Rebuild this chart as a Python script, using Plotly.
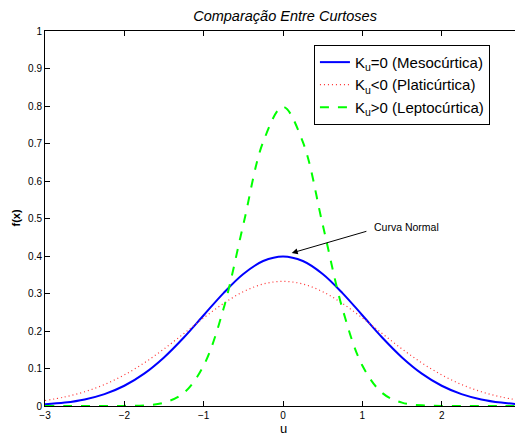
import plotly.graph_objects as go

# -----------------------------
# Data
# -----------------------------
u = [-3.0, -2.75, -2.5, -2.25, -2.0, -1.75, -1.5, -1.25, -1.0, -0.75, -0.5, -0.25, 0.0,
     0.25, 0.5, 0.75, 1.0, 1.25, 1.5, 1.75, 2.0, 2.25, 2.5, 2.75, 3.0]

meso_half = [0.0044, 0.0091, 0.0175, 0.0317, 0.0540, 0.0863, 0.1295, 0.1826, 0.2420,
             0.3011, 0.3521, 0.3867, 0.3989]
plati_half = [0.0146, 0.0241, 0.0380, 0.0573, 0.0829, 0.1148, 0.1522, 0.1932, 0.2349,
              0.2734, 0.3048, 0.3253, 0.3324]
lepto_half = [0.0000, 0.0000, 0.0000, 0.0000, 0.0003, 0.0017, 0.0089, 0.0350, 0.1080,
              0.2591, 0.4839, 0.7041, 0.7979]

# curves are symmetric about u = 0
meso = meso_half + meso_half[-2::-1]
plati = plati_half + plati_half[-2::-1]
lepto = lepto_half + lepto_half[-2::-1]

x_ticks = [-3, -2, -1, 0, 1, 2, 3]
y_ticks = [0, 0.1, 0.2, 0.3, 0.4, 0.5, 0.6, 0.7, 0.8, 0.9, 1]
y_tick_labels = ["0", "0.1", "0.2", "0.3", "0.4", "0.5", "0.6", "0.7", "0.8", "0.9", "1"]

# -----------------------------
# Figure
# -----------------------------
fig = go.Figure()
fig.add_trace(go.Scatter(x=u, y=meso, mode="lines", name="K<sub>u</sub>=0 (Mesocúrtica)",
                         line=dict(color="#0000ff", width=2, shape="spline")))
fig.add_trace(go.Scatter(x=u, y=plati, mode="lines", name="K<sub>u</sub><0 (Platicúrtica)",
                         line=dict(color="#ff3030", width=1.2, dash="1px,3px", shape="spline")))
fig.add_trace(go.Scatter(x=u, y=lepto, mode="lines", name="K<sub>u</sub>>0 (Leptocúrtica)",
                         line=dict(color="#00ff00", width=2, dash="dash", shape="spline")))

# arrow and label
fig.add_annotation(x=0.11, y=0.408, ax=1.07, ay=0.467, xref="x", yref="y",
                   axref="x", ayref="y", text="", showarrow=True,
                   arrowhead=2, arrowsize=1.2, arrowwidth=1, arrowcolor="black")
fig.add_annotation(x=1.12, y=0.478, xref="x", yref="y", text="Curva Normal",
                   showarrow=False, xanchor="left", yanchor="middle",
                   font=dict(size=10.5, color="black"))

# axis titles
fig.add_annotation(x=0.5, y=0, xref="paper", yref="paper", yshift=-22,
                   text="u", showarrow=False, xanchor="center", yanchor="middle",
                   font=dict(size=13, color="black"))
fig.add_annotation(x=0, y=0.5, xref="paper", yref="paper", xshift=-30,
                   text="<b>f(x)</b>", textangle=-90, showarrow=False,
                   xanchor="center", yanchor="middle", font=dict(size=11, color="black"))

axis_style = dict(showline=True, linecolor="black", linewidth=1, mirror="ticks",
                  ticks="inside", ticklen=5, tickcolor="black", showgrid=False,
                  zeroline=False, automargin=False, tickfont=dict(size=10, color="black"))

fig.update_xaxes(range=[-3, 3], tickvals=x_ticks, **axis_style)
fig.update_yaxes(range=[0, 1], tickvals=y_ticks, ticktext=y_tick_labels, **axis_style)

# page body has an 8px margin, so the figure is a bit smaller than the window
fig.update_layout(
    width=515, height=427,
    margin=dict(l=37, r=2, t=23, b=29),
    title=dict(text="<i>Comparação Entre Curtoses</i>", x=0.538, xanchor="center",
               y=0.981, yref="container", yanchor="middle", font=dict(size=14.5, color="black")),
    font=dict(family="Liberation Sans, Arial, sans-serif", color="black"),
    plot_bgcolor="white", paper_bgcolor="white",
    legend=dict(x=0.565, y=0.963, xanchor="left", yanchor="top", bgcolor="white",
                bordercolor="black", borderwidth=1, font=dict(size=15),
                tracegroupgap=0, itemwidth=30),
    showlegend=True,
)

fig.write_html("out.html")
